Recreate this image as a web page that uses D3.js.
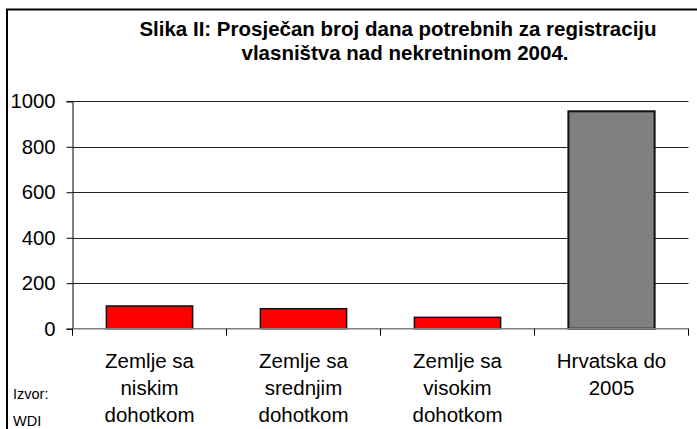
<!DOCTYPE html>
<html>
<head>
<meta charset="utf-8">
<script src="https://cdn.jsdelivr.net/npm/d3@7"></script>
<style>
  body { margin: 0; background: #fff; }
  svg { display: block; font-family: "Liberation Sans", Arial, sans-serif; }
</style>
</head>
<body>
<div class="canvas"></div>
<script>
// chart data
const categories = ['Zemlje sa\nniskim\ndohotkom', 'Zemlje sa\nsrednjim\ndohotkom', 'Zemlje sa\nvisokim\ndohotkom', 'Hrvatska do\n2005']
const values = [100, 88, 50, 956]
const barColors = ['#ff0000', '#ff0000', '#ff0000', '#808080']
const yTicks = [0, 200, 400, 600, 800, 1000]
const titleLines = ['Slika II: Prosječan broj dana potrebnih za registraciju', 'vlasništva nad nekretninom 2004.']
const sourceLines = ['Izvor:', 'WDI']

// graph setup
const dims = { width: 697, height: 429 }
const plot = { left: 72.5, right: 688.5, top: 101.3, bottom: 328.7 }

const svg = d3.select('.canvas')
  .append('svg')
  .attr('width', dims.width)
  .attr('height', dims.height)

// outer chart border (cropped at right / bottom)
svg.append('rect')
  .attr('x', 7).attr('y', 9.5)
  .attr('width', 720).attr('height', 450)
  .attr('fill', 'none')
  .attr('stroke', '#000')
  .attr('stroke-width', 2)

// scales
const x = d3.scaleBand()
  .domain(categories)
  .range([plot.left, plot.right])
  .paddingInner(0.44)
  .paddingOuter(0.22)

const y = d3.scaleLinear()
  .domain([0, 1000])
  .range([plot.bottom, plot.top])

// gridlines
svg.append('g')
  .selectAll('line')
  .data(yTicks.filter(d => d > 0))
  .enter()
  .append('line')
    .attr('x1', plot.left).attr('x2', plot.right)
    .attr('y1', d => Math.round(y(d)) + 0.5)
    .attr('y2', d => Math.round(y(d)) + 0.5)
    .attr('stroke', '#222')
    .attr('stroke-width', 1)

// y axis
const yAxis = svg.append('g')
  .attr('transform', `translate(${plot.left},0)`)
  .call(d3.axisLeft(y).tickValues(yTicks).tickFormat(d3.format('d')).tickSize(6).tickPadding(11))
yAxis.select('.domain').attr('stroke', '#000')
yAxis.selectAll('.tick line').attr('stroke', '#000')
yAxis.selectAll('text')
  .attr('font-size', 20.3)
  .attr('fill', '#000')
  .attr('font-family', '"Liberation Sans", Arial, sans-serif')

// bars
svg.append('g')
  .selectAll('rect')
  .data(values)
  .enter()
  .append('rect')
    .attr('x', (d, i) => x(categories[i]))
    .attr('y', d => y(d))
    .attr('width', x.bandwidth())
    .attr('height', d => y(0) - y(d))
    .attr('fill', (d, i) => barColors[i])
    .attr('stroke', '#111')
    .attr('stroke-width', (d, i) => i === 3 ? 2 : 1.5)

// x axis line + boundary ticks
const xg = svg.append('g')
xg.append('line')
  .attr('x1', plot.left).attr('x2', plot.right)
  .attr('y1', y(0)).attr('y2', y(0))
  .attr('stroke', '#808080')
  .attr('stroke-width', 1.5)
xg.selectAll('.bound')
  .data(d3.range(categories.length + 1))
  .enter()
  .append('line')
    .attr('x1', i => plot.left + i * x.step())
    .attr('x2', i => plot.left + i * x.step())
    .attr('y1', y(0)).attr('y2', y(0) + 7)
    .attr('stroke', '#000')

// category labels
const labels = xg.selectAll('.cat')
  .data(categories)
  .enter()
  .append('text')
    .attr('text-anchor', 'middle')
    .attr('font-size', 20.5)
    .attr('fill', '#000')
    .attr('transform', d => `translate(${x(d) + x.bandwidth() / 2},368)`)
labels.selectAll('tspan')
  .data(d => d.split('\n'))
  .enter()
  .append('tspan')
    .attr('x', 0)
    .attr('y', (d, i) => i * 27)
    .text(d => d)

// title
svg.append('text')
  .attr('text-anchor', 'middle')
  .attr('font-size', 20.5)
  .attr('font-weight', 'bold')
  .attr('fill', '#000')
  .selectAll('tspan')
  .data(titleLines)
  .enter()
  .append('tspan')
    .attr('x', (d, i) => i === 0 ? 398 : 405)
    .attr('y', (d, i) => 36 + i * 24)
    .text(d => d)

// source note
svg.append('text')
  .attr('font-size', 14.5)
  .attr('fill', '#000')
  .selectAll('tspan')
  .data(sourceLines)
  .enter()
  .append('tspan')
    .attr('x', 13)
    .attr('y', (d, i) => 399 + i * 27)
    .text(d => d)
</script>
</body>
</html>
